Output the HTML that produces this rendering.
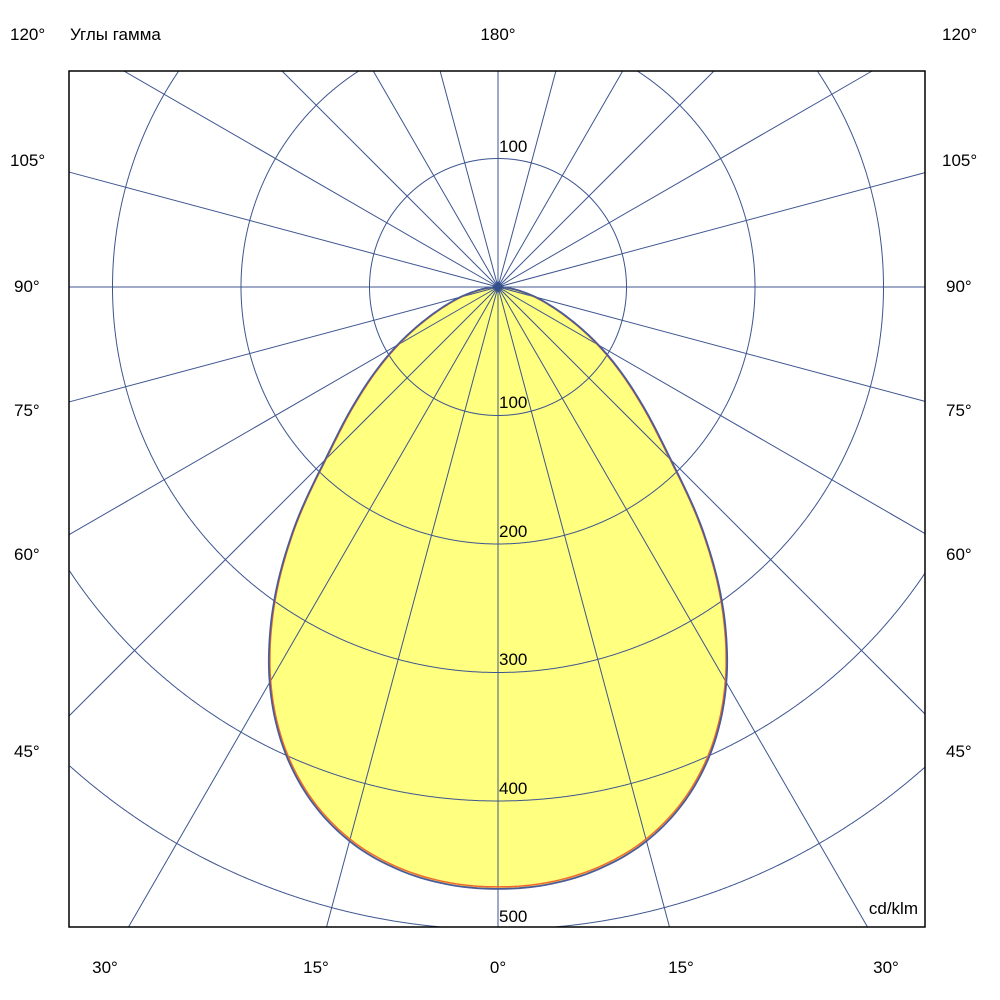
<!DOCTYPE html>
<html><head><meta charset="utf-8"><style>
html,body{margin:0;padding:0;background:#fff;overflow:hidden;width:1000px;height:1000px;}
svg{display:block;}
text{font-family:"Liberation Sans","Noto Sans CJK JP",sans-serif;font-size:17px;fill:#000;}
</style></head><body>
<svg id="s" width="1000" height="1000" viewBox="0 0 1000 1000" xmlns="http://www.w3.org/2000/svg">
<rect width="1000" height="1000" fill="#fff"/>
<g id="plot"></g>
<rect x="69" y="71" width="856" height="856" fill="none" stroke="#000" stroke-width="1.5"/>
<text x="10" y="40">120°</text>
<text x="70" y="40">Углы гамма</text>
<text x="498" y="40" text-anchor="middle">180°</text>
<text x="942" y="40">120°</text>
<text x="10" y="166">105°</text><text x="942" y="166">105°</text>
<text x="14" y="292">90°</text><text x="946" y="292">90°</text>
<text x="14" y="416">75°</text><text x="946" y="416">75°</text>
<text x="14" y="560">60°</text><text x="946" y="560">60°</text>
<text x="14" y="757">45°</text><text x="946" y="757">45°</text>
<text x="105" y="973" text-anchor="middle">30°</text>
<text x="316" y="973" text-anchor="middle">15°</text>
<text x="498" y="973" text-anchor="middle">0°</text>
<text x="681" y="973" text-anchor="middle">15°</text>
<text x="886" y="973" text-anchor="middle">30°</text>
<text x="918" y="914" text-anchor="end">cd/klm</text>
</svg>
<script>
var cx=498,cy=287,k=1.285,NS="http://www.w3.org/2000/svg",g=document.getElementById('plot'),col="#3d5590";
var X0=69,X1=925,Y0=71,Y1=927;
function el(n,a){var e=document.createElementNS(NS,n);for(var i in a)e.setAttribute(i,a[i]);g.appendChild(e);return e;}
function inside(x,y){return x>=X0&&x<=X1&&y>=Y0&&y<=Y1;}
var I=[468,466,459,446,425,395,355,305,248,190,150,118,90,65,45,30,17,7,0,0,0];
function gi(i){if(i<0)return I[-i];return I[Math.min(i,I.length-1)];}
function val(t){t=Math.abs(t);if(t>=90)return 0;var i=Math.floor(t/5),f=t/5-i;
 var p0=gi(i-1),p1=gi(i),p2=gi(i+1),p3=gi(i+2);
 return 0.5*((2*p1)+(-p0+p2)*f+(2*p0-5*p1+4*p2-p3)*f*f+(-p0+3*p1-3*p2+p3)*f*f*f);}
function pts(sc,off){var p=[];for(var t=-90;t<=90;t+=0.5){var r=val(t)*k*sc+off;if(r<0)r=0;var a=t*Math.PI/180;p.push((cx+r*Math.sin(a)).toFixed(1)+","+(cy+r*Math.cos(a)).toFixed(1));}return p.join(" ");}
el('polygon',{points:pts(1,0),fill:"#ffff80",stroke:"none"});
// circles clipped
for(var r=1;r<=9;r++){var R=r*128.5,d="",pen=false;
 for(var t=0;t<=3600;t++){var a=t/10*Math.PI/180,x=cx+R*Math.cos(a),y=cy+R*Math.sin(a);
  if(inside(x,y)){d+=(pen?"L":"M")+x.toFixed(1)+" "+y.toFixed(1);pen=true;}else pen=false;}
 if(d)el('path',{d:d,fill:"none",stroke:col,"stroke-width":1});}
// rays clipped
for(var a=0;a<360;a+=15){var b=a*Math.PI/180,dx=Math.sin(b),dy=Math.cos(b),tm=1e9;
 if(dx>1e-9)tm=Math.min(tm,(X1-cx)/dx);if(dx<-1e-9)tm=Math.min(tm,(X0-cx)/dx);
 if(dy>1e-9)tm=Math.min(tm,(Y1-cy)/dy);if(dy<-1e-9)tm=Math.min(tm,(Y0-cy)/dy);
 el('line',{x1:cx,y1:cy,x2:cx+tm*dx,y2:cy+tm*dy,stroke:col,"stroke-width":1});}
el('polygon',{points:pts(1,-1.5),fill:"none",stroke:"#f06a30","stroke-width":1.5});
el('polygon',{points:pts(1,0.5),fill:"none",stroke:"#4a5c98","stroke-width":1.8});
el('polygon',{points:(cx)+","+(cy-6)+" "+(cx+6)+","+cy+" "+cx+","+(cy+6)+" "+(cx-6)+","+cy,fill:"#34508a"});
var labs=[["100",145],["100",401],["200",530],["300",658],["400",787],["500",915]];
labs.forEach(function(l){var t=el('text',{x:499,y:l[1]+7});t.textContent=l[0];});
</script>
</body></html>
